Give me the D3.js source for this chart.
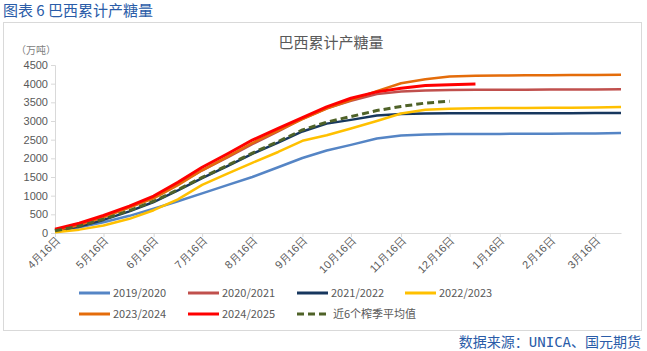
<!DOCTYPE html>
<html>
<head>
<meta charset="utf-8">
<script src="https://cdn.jsdelivr.net/npm/d3@7"></script>
<style>
  body { margin: 0; background: #fff; }
  svg { font-family: "Noto Sans CJK SC", "Noto Sans", sans-serif; }
</style>
</head>
<body>
<svg id="chart" width="647" height="351"></svg>
<script>
// half-month report dates (month-day) of a season Apr -> Mar
var dates = ["04-16","05-01","05-16","06-01","06-16","07-01","07-16","08-01","08-16","09-01","09-16","10-01",
             "10-16","11-01","11-16","12-01","12-16","01-01","01-16","02-01","02-16","03-01","03-16","04-01"];
var tickLabels = ["4月16日","5月16日","6月16日","7月16日","8月16日","9月16日","10月16日","11月16日","12月16日","1月16日","2月16日","3月16日"];
var yTicks = [0,500,1000,1500,2000,2500,3000,3500,4000,4500];

var s1920 = [50,150,290,460,650,850,1060,1290,1500,1760,2010,2210,2360,2530,2610,2640,2650,2655,2655,2658,2660,2662,2665,2680];
var s2021 = [80,220,440,700,960,1310,1680,2030,2380,2720,3060,3340,3540,3720,3790,3820,3830,3835,3838,3840,3842,3844,3845,3850];
var s2122 = [60,175,350,580,830,1140,1470,1800,2120,2420,2720,2930,3030,3150,3190,3200,3205,3206,3206,3208,3208,3210,3212,3214];
var s2223 = [20,90,200,380,610,900,1290,1600,1880,2170,2470,2620,2800,3000,3200,3300,3330,3340,3345,3350,3352,3355,3360,3375];
var s2324 = [70,210,420,680,930,1280,1680,2050,2410,2740,3050,3330,3560,3800,4010,4120,4190,4210,4220,4225,4228,4230,4232,4240];
var s2425 = [100,260,470,720,990,1360,1760,2130,2490,2800,3090,3380,3610,3780,3880,3950,3970,3990];
var sAvg  = [60,185,370,600,850,1160,1490,1820,2140,2450,2760,2970,3120,3280,3390,3480,3530];

var seriesNames = ["2019/2020","2020/2021","2021/2022","2022/2023","2023/2024","2024/2025","近6个榨季平均值"];
var seriesColors = ["#5585c5","#c0504d","#17375e","#ffc000","#e46c0a","#ff0000","#4f6228"];
var seriesData = [s1920, s2021, s2122, s2223, s2324, s2425, sAvg];

// place each report date on a non-leap season 2018/19
function seasonDate(i) {
  var m = +dates[i].slice(0,2), d = +dates[i].slice(3);
  var yr = (i === dates.length - 1 || m < 4) ? 2019 : 2018;
  return new Date(yr, m - 1, d);
}
var tickDates = tickLabels.map(function(t) {
  var m = parseInt(t, 10);
  return new Date(m < 4 ? 2019 : 2018, m - 1, 16);
});

var svg = d3.select("#chart");

// frame
svg.append("rect").attr("x", 3.5).attr("y", 22.5).attr("width", 638).attr("height", 308)
  .attr("fill", "none").attr("stroke", "#d9d9d9");

svg.append("text").attr("x", 3).attr("y", 16).attr("fill", "#2a5ca8")
  .attr("font-size", 15).text("图表 6  巴西累计产糖量");

svg.append("text").attr("x", 331).attr("y", 48).attr("text-anchor", "middle")
  .attr("fill", "#595959").attr("font-size", 15).text("巴西累计产糖量");

svg.append("text").attr("x", 16).attr("y", 54).attr("fill", "#808080")
  .attr("font-size", 10).text("（万吨）");

var x = d3.scaleTime()
  .domain([new Date(2018, 3, 16), new Date(2019, 3, 1)])
  .range([55, 621]);
var y = d3.scaleLinear().domain([0, 4500]).range([233, 65]);

// y axis
var yAxis = svg.append("g").attr("transform", "translate(55,0)")
  .call(d3.axisLeft(y).tickValues(yTicks).tickFormat(d3.format("d")).tickSize(4).tickPadding(3));
yAxis.select(".domain").attr("stroke", "#d9d9d9");
yAxis.selectAll("line").attr("stroke", "#d9d9d9");
yAxis.selectAll("text").attr("fill", "#595959").attr("font-size", 11)
  .attr("font-family", "Liberation Sans, Arial, sans-serif");

// x axis
var xAxis = svg.append("g").attr("transform", "translate(0,233)")
  .call(d3.axisBottom(x).tickValues(tickDates).tickSize(4).tickSizeOuter(0)
    .tickFormat(function(d, i) { return tickLabels[i]; }));
xAxis.select(".domain").attr("stroke", "#d9d9d9");
xAxis.selectAll("line").attr("stroke", "#d9d9d9");
xAxis.selectAll("text").attr("fill", "#595959").attr("font-size", 11)
  .attr("text-anchor", "end").attr("dy", null)
  .attr("transform", "translate(3,6) rotate(-45)")
  .attr("y", 0).attr("x", 0).attr("dominant-baseline", "middle");

// lines
var line = d3.line()
  .x(function(d, i) { return x(seasonDate(i)); })
  .y(function(d) { return y(d); });

seriesData.forEach(function(data, k) {
  svg.append("path").datum(data)
    .attr("fill", "none")
    .attr("stroke", seriesColors[k])
    .attr("stroke-width", k >= 5 ? 3 : 2.5)
    .attr("stroke-dasharray", k === 6 ? "7,4" : null)
    .attr("stroke-linejoin", "round")
    .attr("d", line);
});

// legend
var legendPos = [[79,293],[188,293],[297,293],[405,293],[79,314],[188,314],[297,314]];
seriesNames.forEach(function(name, k) {
  var g = svg.append("g").attr("transform", "translate(" + legendPos[k][0] + "," + legendPos[k][1] + ")");
  g.append("line").attr("x1", 0).attr("x2", 31).attr("y1", 0).attr("y2", 0)
    .attr("stroke", seriesColors[k]).attr("stroke-width", 3)
    .attr("stroke-dasharray", k === 6 ? "7,4" : null);
  g.append("text").attr("x", k === 6 ? 36 : 34).attr("y", 4)
    .attr("fill", "#595959").attr("font-size", 11).text(name);
});

svg.append("text").attr("x", 641).attr("y", 347).attr("text-anchor", "end")
  .attr("fill", "#2a5ca8").attr("font-size", 14)
  .attr("font-family", "DejaVu Sans Mono, Noto Sans CJK SC, monospace")
  .text("数据来源：UNICA、国元期货");
</script>
</body>
</html>
